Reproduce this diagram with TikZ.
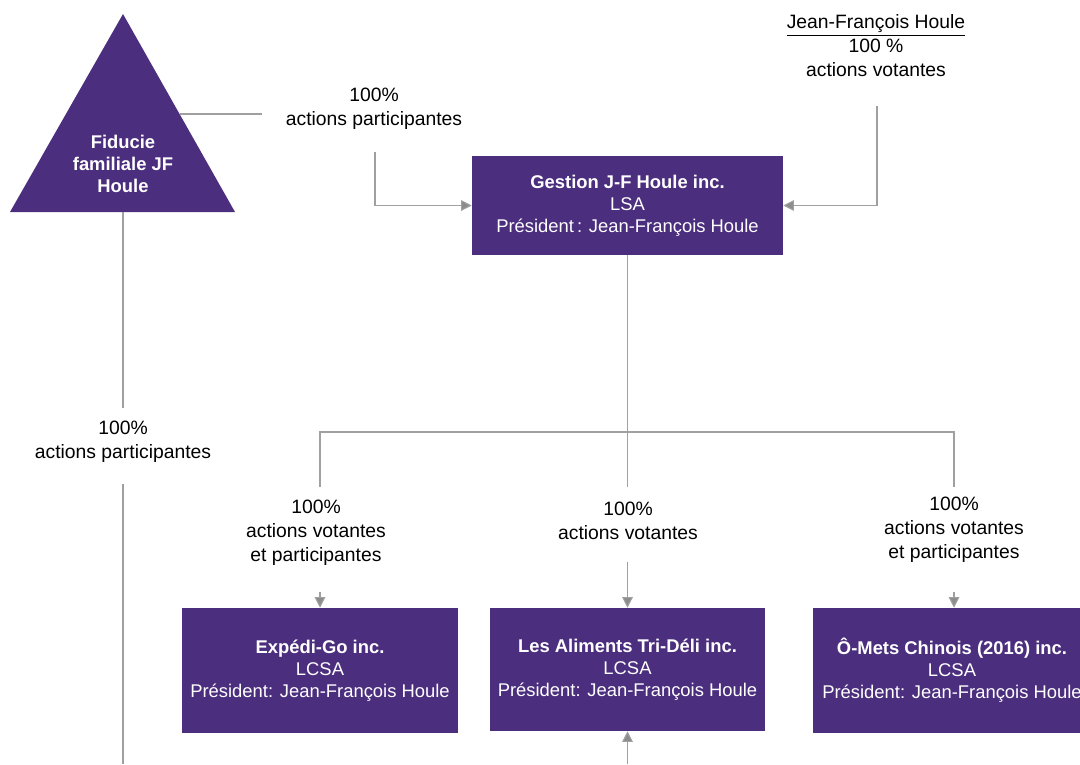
\documentclass[tikz,border=0pt]{standalone}
\usepackage{fontspec}
\setmainfont{Liberation Sans}
\usetikzlibrary{arrows.meta}
\definecolor{purp}{RGB}{75,46,126}
\definecolor{lgray}{RGB}{160,160,160}
\definecolor{agray}{RGB}{140,140,140}
\tikzset{
  conn/.style={draw=lgray, line width=0.8pt},
  arr/.style={conn, -{Triangle[length=8pt,width=8pt,fill=agray]}},
  lbl/.style={align=center, font=\fontsize{14.5}{18}\selectfont, inner sep=0pt},
  box/.style={fill=purp, draw=none, text=white, align=center, inner sep=0pt,
              font=\fontsize{13.8}{16.5}\selectfont},
}
\begin{document}
\begin{tikzpicture}[x=0.75pt,y=-0.75pt]
\useasboundingbox (0,0) rectangle (1080,764);
\clip (0,0) rectangle (1080,764);
% triangle
\fill[purp] (123,14) -- (235,212) -- (10,212) -- cycle;
\node[lbl, text=white, font=\fontsize{13.8}{16.5}\selectfont\bfseries] (fid) at (123,164) {Fiducie\\familiale JF\\Houle};
\coordinate (fidside) at (180,114);
\coordinate (fidbase) at (123,212);
% boxes
\node[box, minimum width=233.25pt, minimum height=74.25pt] (gest) at (627.5,205.5)
  {\textbf{Gestion J-F Houle inc.}\\LSA\\Président\,: Jean-François Houle};
\node[box, minimum width=207pt, minimum height=93.75pt] (exp) at (320,670.5)
  {\textbf{Expédi-Go inc.}\\LCSA\\Président: Jean-François Houle};
\node[box, minimum width=206.25pt, minimum height=92.25pt] (ali) at (627.5,669.5)
  {\textbf{Les Aliments Tri-Déli inc.}\\LCSA\\Président: Jean-François Houle};
\node[box, minimum width=208.5pt, minimum height=93.75pt] (ome) at (952,670.5)
  {\textbf{Ô-Mets Chinois (2016) inc.}\\LCSA\\Président: Jean-François Houle};
% labels
\node[lbl] (l1) at (374,109) {100\%\\actions participantes};
\node[lbl] (jf) at (876,46) {\underline{Jean-François Houle}\\100 \%\\actions votantes};
\node[lbl] (l2) at (123,442) {100\%\\actions participantes};
\node[lbl] (l3) at (316,532.5) {100\%\\actions votantes\\et participantes};
\node[lbl] (l4) at (628,520.5) {100\%\\actions votantes};
\node[lbl] (l5) at (954,529.5) {100\%\\actions votantes\\et participantes};
% connector coordinates
\coordinate (c1) at (262,114);
\coordinate (c2) at (375,152);
\coordinate (c3) at (877,106);
\coordinate (hL) at (320,432);
\coordinate (hR) at (954,432);
\coordinate (vL) at (320,487);
\coordinate (vM) at (627.5,487);
\coordinate (vR) at (954,487);
\coordinate (a1) at (320,592);
\coordinate (a2) at (627.5,562);
\coordinate (a3) at (954,592);
\coordinate (bot) at (627.5,764);
\coordinate (lf1) at (123,408);
\coordinate (lf2) at (123,484);
\coordinate (lf3) at (123,764);
% connectors
\draw[conn] (fidside) -- (c1);
\draw[arr] (c2) |- (gest.west);
\draw[arr] (c3) |- (gest.east);
\draw[conn] (gest.south) -- (vM);
\draw[conn] (vL) -- (hL) -- (hR) -- (vR);
\draw[arr] (a1) -- (exp.north);
\draw[arr] (a2) -- (ali.north);
\draw[arr] (a3) -- (a3 |- ome.north);
\draw[arr] (bot) -- (ali.south);
\draw[conn] (fidbase) -- (lf1);
\draw[conn] (lf2) -- (lf3);
\end{tikzpicture}
\end{document}
